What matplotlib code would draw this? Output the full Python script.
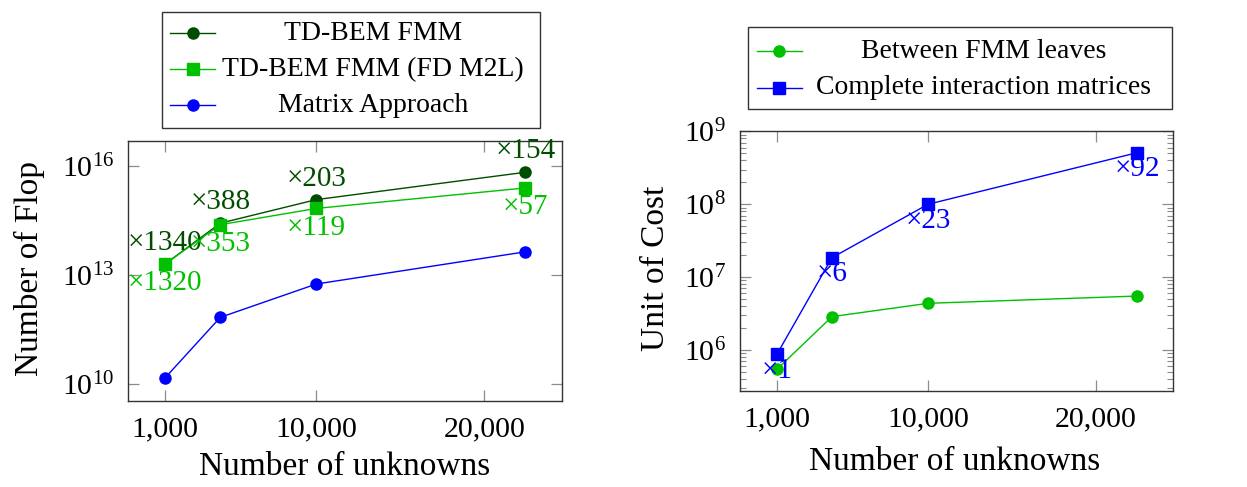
import matplotlib
matplotlib.use("Agg")
import matplotlib.pyplot as plt
from matplotlib.lines import Line2D
from matplotlib.patches import Rectangle
from matplotlib.ticker import FixedLocator, FixedFormatter, LogLocator, NullFormatter

plt.rcParams["font.family"] = ["Liberation Serif", "DejaVu Serif"]
plt.rcParams["mathtext.fontset"] = "custom"
plt.rcParams["mathtext.rm"] = "Liberation Serif"
plt.rcParams["mathtext.it"] = "Liberation Serif:italic"

# ---- data -------------------------------------------------------------
unknowns = [1000, 4280, 10000, 22450]
xtick_values = [1000, 10000, 20000]
xtick_labels = ["1,000", "10,000", "20,000"]

flop_fmm = [2.0e13, 2.63e14, 1.17e15, 6.6e15]
flop_fmm_fd = [2.0e13, 2.39e14, 6.7e14, 2.45e15]
flop_matrix = [1.49e10, 6.8e11, 5.6e12, 4.3e13]
speedup_fmm = ["×1340", "×388", "×203", "×154"]
speedup_fmm_fd = ["×1320", "×353", "×119", "×57"]

cost_leaves = [5.43e5, 2.87e6, 4.37e6, 5.5e6]
cost_complete = [8.73e5, 1.85e7, 1.0e8, 5.1e8]
cost_ratio = ["×1", "×6", "×23", "×92"]

DARK_GREEN = "#004d00"
GREEN = "#00c000"
BLUE = "#0000ff"
FRAME = "#333333"
TICK = "#8c8c8c"

W, H = 1247, 487
fig = plt.figure(figsize=(W / 100, H / 100), dpi=100)


def px_box(x0, y0, x1, y1):
    return [x0 / W, 1 - y1 / H, (x1 - x0) / W, (y1 - y0) / H]


def style_axes(ax):
    for s in ax.spines.values():
        s.set_color(FRAME)
        s.set_linewidth(1.0)
    ax.tick_params(which="major", direction="in", length=8, width=0.9,
                   color=TICK, top=True, right=True, labelsize=21.5)
    ax.tick_params(axis="x", which="major", pad=11)
    ax.tick_params(axis="y", which="major", pad=10)
    ax.tick_params(which="minor", direction="in", length=4.5, width=0.8,
                   color=TICK, top=False, right=True)
    ax.xaxis.set_major_locator(FixedLocator(xtick_values))
    ax.xaxis.set_major_formatter(FixedFormatter(xtick_labels))
    ax.set_xlim(-1200, 24615)


lw = 1.0
ms = 8

# ---- left panel: number of flop --------------------------------------
ax1 = fig.add_axes(px_box(128.3, 141, 561.7, 401))
style_axes(ax1)
ax1.set_yscale("log")
ax1.set_ylim(10 ** 9.533, 10 ** 16.679)
ax1.yaxis.set_major_locator(FixedLocator([1e10, 1e13, 1e16]))
ax1.yaxis.set_minor_locator(FixedLocator([]))
ax1.yaxis.set_major_formatter(FixedFormatter([r"$10^{10}$", r"$10^{13}$", r"$10^{16}$"]))

ax1.plot(unknowns, flop_matrix, color=BLUE, lw=lw, marker="o", ms=ms, zorder=3)
ax1.plot(unknowns, flop_fmm, color=DARK_GREEN, lw=lw, marker="o", ms=ms, zorder=3)
ax1.plot(unknowns, flop_fmm_fd, color=GREEN, lw=lw, marker="s", ms=ms, zorder=4)

for x, y, t in zip(unknowns, flop_fmm, speedup_fmm):
    ax1.annotate(t, (x, y), xytext=(0, 15), textcoords="offset points",
                 ha="center", va="center", fontsize=21, color=DARK_GREEN, zorder=5,
                 annotation_clip=False)
for x, y, t in zip(unknowns, flop_fmm_fd, speedup_fmm_fd):
    ax1.annotate(t, (x, y), xytext=(0, -14), textcoords="offset points",
                 ha="center", va="center", fontsize=21, color=GREEN, zorder=5,
                 annotation_clip=False)

# ---- right panel: unit of cost ---------------------------------------
ax2 = fig.add_axes(px_box(740, 131, 1173.3, 391))
style_axes(ax2)
ax2.set_yscale("log")
ax2.set_ylim(10 ** 5.437, 10 ** 9.006)
ax2.yaxis.set_major_locator(FixedLocator([1e6, 1e7, 1e8, 1e9]))
ax2.yaxis.set_major_formatter(FixedFormatter([r"$10^{6}$", r"$10^{7}$", r"$10^{8}$", r"$10^{9}$"]))
ax2.yaxis.set_minor_locator(LogLocator(base=10, subs=range(2, 10)))
ax2.yaxis.set_minor_formatter(NullFormatter())

ax2.plot(unknowns, cost_leaves, color=GREEN, lw=lw, marker="o", ms=ms, zorder=3)
ax2.plot(unknowns, cost_complete, color=BLUE, lw=lw, marker="s", ms=ms, zorder=3)
for x, y, t in zip(unknowns, cost_complete, cost_ratio):
    ax2.annotate(t, (x, y), xytext=(0, -12), textcoords="offset points",
                 ha="center", va="center", fontsize=21, color=BLUE, zorder=5,
                 annotation_clip=False)

# ---- axis titles -----------------------------------------------------
fig.text(29 / W, 1 - 268 / H, "Number of Flop", rotation=90, ha="center",
         va="center", fontsize=24)
fig.text(345 / W, 1 - 467 / H, "Number of unknowns", ha="center", va="center",
         fontsize=24)
fig.text(656 / W, 1 - 268 / H, "Unit of Cost", rotation=90, ha="center",
         va="center", fontsize=24)
fig.text(955 / W, 1 - 462 / H, "Number of unknowns", ha="center", va="center",
         fontsize=24)


# ---- legends (centred entries in a framed box) -------------------------
def framed_legend(box, rows, handle_x, text_x, row_y):
    x0, y0, x1, y1 = box
    fig.add_artist(Rectangle((x0 / W, 1 - y1 / H), (x1 - x0) / W, (y1 - y0) / H,
                             transform=fig.transFigure, facecolor="white",
                             edgecolor=FRAME, lw=1.0))
    for (label, color, marker), y in zip(rows, row_y):
        fy = 1 - y / H
        fig.add_artist(Line2D([handle_x[0] / W, handle_x[1] / W], [fy, fy],
                              transform=fig.transFigure, color=color, lw=lw))
        fig.add_artist(Line2D([(handle_x[0] + handle_x[1]) / 2 / W], [fy],
                              transform=fig.transFigure, color=color,
                              marker=marker, ms=ms, lw=0))
        fig.text(text_x / W, fy, label, ha="center", va="center", fontsize=20)


framed_legend((161.7, 11.7, 540, 127.7),
              [("TD-BEM FMM", DARK_GREEN, "o"),
               ("TD-BEM FMM (FD M2L)", GREEN, "s"),
               ("Matrix Approach", BLUE, "o")],
              (170, 215), 373, [33.3, 69.3, 105])
framed_legend((747.7, 26.7, 1172.3, 109.3),
              [("Between FMM leaves", GREEN, "o"),
               ("Complete interaction matrices", BLUE, "s")],
              (756.7, 801.7), 984, [51, 87.7])

fig.savefig("out.png", dpi=100, facecolor="white")
